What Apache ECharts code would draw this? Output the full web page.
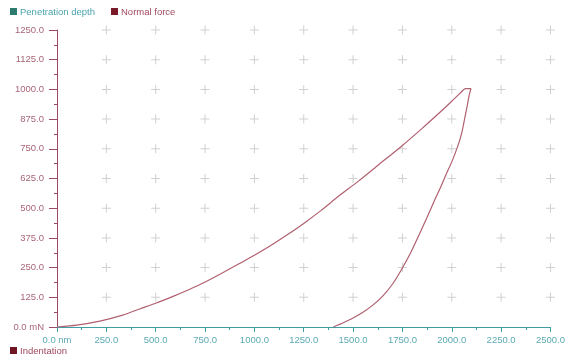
<!DOCTYPE html>
<html>
<head>
<meta charset="utf-8">
<script src="https://cdn.jsdelivr.net/npm/echarts@6/dist/echarts.min.js"></script>
<style>
  html, body { margin: 0; padding: 0; background: #fff; }
  #chart { width: 568px; height: 360px; }
</style>
</head>
<body>
<div id="chart"></div>
<script>
// Penetration depth (nm) ticks and normal force (mN) ticks
const depthTicks = [0, 250, 500, 750, 1000, 1250, 1500, 1750, 2000, 2250, 2500];
const forceTicks = [0, 125, 250, 375, 500, 625, 750, 875, 1000, 1125, 1250];

// Loading branch: [depth nm, force mN]
const loading = [
  [0, 0], [100, 8], [217, 25], [333, 50], [418, 76], [500, 100], [585, 128],
  [670, 158], [746, 187], [830, 224], [922, 266], [1000, 302], [1089, 346],
  [1170, 390], [1250, 436], [1340, 492], [1426, 550], [1527, 614], [1628, 682],
  [1744, 760], [1850, 836], [1950, 911], [2000, 950], [2040, 982], [2070, 1003], [2097, 1003]
];

// Unloading branch: [depth nm, force mN]
const unloading = [
  [2097, 1003], [2088, 975], [2078, 930], [2066, 880], [2050, 815], [2030, 760],
  [2000, 695], [1970, 640], [1940, 582], [1910, 528], [1875, 462], [1840, 398],
  [1795, 318], [1744, 240], [1700, 181], [1650, 130], [1600, 92], [1550, 62],
  [1500, 38], [1450, 18], [1400, 0]
];

const seriesNames = ['Penetration depth', 'Normal force', 'Indentation'];

const teal = '#3f9ea3';
const maroon = '#9b4a62';
const curveColor = '#b0606f';

// grid crosses at every major tick intersection (axes excluded)
const crosses = [];
depthTicks.slice(1).forEach(function (x) {
  forceTicks.slice(1).forEach(function (y) { crosses.push([x, y]); });
});

const chart = echarts.init(document.getElementById('chart'), null, { renderer: 'canvas' });

const font = 'Liberation Sans, Arial, sans-serif';

chart.setOption({
  animation: false,
  backgroundColor: '#ffffff',
  grid: { left: 57, right: 15, top: 30, bottom: 33, containLabel: false },
  xAxis: {
    type: 'value',
    min: 0, max: 2500, interval: 250,
    axisLine: { show: true, lineStyle: { color: teal, width: 1 } },
    axisTick: { show: true, length: 5, lineStyle: { color: teal } },
    minorTick: { show: true, splitNumber: 2, length: 3, lineStyle: { color: teal } },
    splitLine: { show: false },
    axisLabel: {
      color: '#5aa9b2', fontSize: 9.5, fontFamily: font, margin: 8,
      formatter: function (v) { return v === 0 ? '0.0 nm' : v.toFixed(1); }
    }
  },
  yAxis: {
    type: 'value',
    min: 0, max: 1250, interval: 125,
    axisLine: { show: true, lineStyle: { color: maroon, width: 1 } },
    axisTick: { show: true, length: 8, lineStyle: { color: maroon } },
    minorTick: { show: true, splitNumber: 2, length: 3, lineStyle: { color: maroon } },
    splitLine: { show: false },
    axisLabel: {
      color: '#a86678', fontSize: 9.5, fontFamily: font, margin: 13,
      formatter: function (v) { return v === 0 ? '0.0 mN' : v.toFixed(1); }
    }
  },
  series: [
    {
      name: 'grid crosses',
      type: 'scatter',
      data: crosses,
      symbol: 'path://M4,0L5,0L5,4L9,4L9,5L5,5L5,9L4,9L4,5L0,5L0,4L4,4Z',
      symbolSize: 9,
      itemStyle: { color: '#c4c4c4' },
      silent: true,
      z: 1
    },
    {
      name: seriesNames[2],
      type: 'line',
      data: loading.concat(unloading.slice(1)),
      showSymbol: false,
      smooth: 0.25,
      lineStyle: { color: curveColor, width: 1.2 },
      z: 3
    }
  ],
  graphic: [
    { type: 'rect', left: 10, top: 8, shape: { width: 7, height: 7 }, style: { fill: '#2b7b6e' } },
    { type: 'text', left: 20, top: 7, style: { text: seriesNames[0], fill: '#4aa3ad', font: '9.5px ' + font } },
    { type: 'rect', left: 111, top: 8, shape: { width: 7, height: 7 }, style: { fill: '#7a1a28' } },
    { type: 'text', left: 121, top: 7, style: { text: seriesNames[1], fill: '#a04a60', font: '9.5px ' + font } },
    { type: 'rect', left: 10, top: 347, shape: { width: 7, height: 7 }, style: { fill: '#6e1422' } },
    { type: 'text', left: 20, top: 346, style: { text: seriesNames[2], fill: '#a04a60', font: '9.5px ' + font } }
  ]
});
</script>
</body>
</html>
